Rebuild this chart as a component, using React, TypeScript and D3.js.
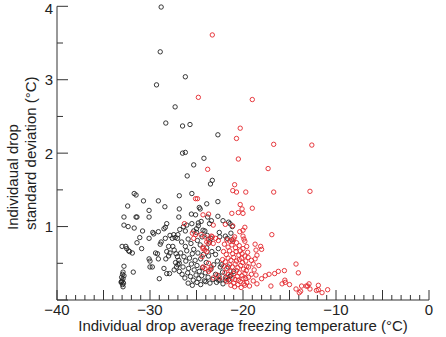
import React from "react";
import * as d3 from "d3";

// Drop freezing statistics: [average freezing temperature (°C), standard deviation (°C)]
const blackDrops: [number, number][] = [
  [-28.8, 3.99], [-28.9, 3.38], [-29.3, 2.93], [-26.2, 3.04], [-27.3, 2.63], [-28.3, 2.41],
  [-26.5, 2.37], [-25.7, 2.39], [-22.7, 2.25], [-26.5, 2.0], [-26.2, 2.01], [-24.2, 1.93],
  [-25.3, 1.84], [-26.0, 1.69], [-23.3, 1.63], [-23.5, 1.58],
  [-31.7, 1.45], [-31.5, 1.43], [-30.7, 1.35], [-32.4, 1.28], [-29.1, 1.35], [-28.4, 1.27],
  [-30.1, 1.22], [-32.8, 1.13], [-31.5, 1.13], [-31.4, 1.13], [-30.1, 1.13], [-26.85, 1.42],
  [-26.85, 1.24], [-26.9, 1.13],
  [-32.8, 1.02], [-32.35, 1.0], [-31.7, 0.98], [-30.8, 0.94], [-29.7, 0.92], [-29.6, 0.9],
  [-29.1, 0.93], [-28.5, 0.97], [-28.35, 0.99], [-28.2, 1.04], [-31.1, 0.85], [-30.1, 0.84],
  [-31.4, 0.78], [-28.8, 0.79], [-28.9, 0.76], [-28.35, 0.84], [-27.85, 0.88], [-27.45, 0.89],
  [-27.3, 0.85], [-27.0, 0.89],
  [-33.0, 0.73], [-32.6, 0.73], [-32.5, 0.7], [-32.3, 0.67], [-32.2, 0.66], [-31.9, 0.64],
  [-30.9, 0.7], [-29.4, 0.64], [-29.2, 0.63], [-30.1, 0.56], [-30.0, 0.53], [-29.1, 0.56],
  [-28.3, 0.56], [-28.0, 0.6], [-27.85, 0.64], [-29.75, 0.45], [-30.0, 0.45], [-28.5, 0.43],
  [-28.2, 0.36], [-27.9, 0.36], [-32.8, 0.46],
  [-32.9, 0.38], [-32.95, 0.35], [-32.8, 0.33], [-33.05, 0.31], [-32.9, 0.29], [-33.0, 0.26],
  [-33.1, 0.24], [-32.95, 0.21], [-32.9, 0.18], [-33.07, 0.25], [-32.85, 0.23],
  [-31.8, 0.38], [-29.0, 0.29],
  [-27.55, 0.73], [-27.4, 0.68], [-27.2, 0.63], [-27.05, 0.59], [-28.0, 0.73], [-28.2, 0.66],
  [-27.4, 0.41], [-27.15, 0.45], [-27.25, 0.51], [-26.9, 0.54], [-27.0, 0.48], [-26.85, 0.39],
  [-25.5, 1.45], [-24.7, 1.26], [-23.9, 1.31], [-22.7, 1.34], [-25.55, 1.17], [-25.1, 1.16],
  [-23.8, 1.13], [-22.7, 1.14], [-24.8, 1.05], [-24.5, 1.07], [-23.4, 1.08], [-23.6, 1.04],
  [-24.8, 1.01], [-25.0, 0.97], [-25.3, 0.94], [-25.0, 0.92], [-24.3, 0.95], [-24.1, 0.94],
  [-22.15, 1.08], [-21.55, 1.06], [-22.55, 0.92], [-22.5, 0.86], [-21.3, 0.91], [-24.6, 1.24],
  [-21.9, 0.87], [-21.7, 0.84], [-21.2, 0.82], [-21.4, 1.04], [-21.15, 1.0],
  [-27.6, 0.84], [-27.05, 0.84], [-26.4, 1.0], [-26.8, 0.96], [-26.2, 0.94], [-25.5, 1.04],
  [-26.05, 1.02],
  [-26.6, 0.79], [-26.2, 0.73], [-25.9, 0.83], [-25.6, 0.77], [-25.3, 0.69], [-24.9, 0.81],
  [-24.6, 0.75], [-24.4, 0.86], [-23.9, 0.71], [-23.6, 0.79],
  [-26.7, 0.64], [-26.35, 0.59], [-26.05, 0.67], [-25.75, 0.57], [-25.45, 0.63], [-25.15, 0.54],
  [-24.85, 0.64], [-24.55, 0.56], [-24.25, 0.62], [-23.95, 0.51],
  [-26.85, 0.5], [-26.45, 0.45], [-26.15, 0.53], [-25.85, 0.43], [-25.55, 0.49], [-25.25, 0.41],
  [-24.95, 0.47], [-24.7, 0.39], [-24.35, 0.44], [-24.05, 0.37],
  [-26.55, 0.35], [-26.25, 0.3], [-25.95, 0.37], [-25.65, 0.32], [-25.35, 0.27], [-25.05, 0.34],
  [-24.75, 0.29], [-24.45, 0.33], [-24.15, 0.26], [-23.75, 0.31],
  [-25.9, 0.23], [-25.45, 0.2], [-24.95, 0.24], [-24.55, 0.21], [-24.0, 0.25], [-23.55, 0.23],
  [-23.25, 0.28], [-22.85, 0.24], [-22.5, 0.27], [-22.15, 0.22],
  [-23.45, 0.42], [-23.15, 0.48], [-22.75, 0.53], [-22.45, 0.45], [-22.2, 0.38], [-22.95, 0.35],
  [-22.6, 0.33], [-21.85, 0.31], [-21.55, 0.28], [-21.3, 0.34],
  [-23.7, 0.6], [-23.35, 0.66], [-22.95, 0.62], [-22.65, 0.7], [-23.85, 0.88], [-23.45, 0.84],
  [-21.4, 0.32], [-21.9, 0.27], [-22.65, 0.27], [-21.0, 0.39], [-21.6, 0.45], [-22.3, 0.48],
];

const redDrops: [number, number][] = [
  [-23.3, 3.61], [-24.8, 2.76], [-19.0, 2.73], [-20.3, 2.34], [-20.7, 2.2], [-16.7, 2.12],
  [-12.6, 2.11], [-20.5, 1.92], [-23.8, 1.78], [-17.3, 1.79], [-20.9, 1.57], [-21.1, 1.49],
  [-20.7, 1.47], [-19.7, 1.47], [-16.7, 1.47], [-12.8, 1.48], [-20.3, 1.3], [-20.1, 1.24],
  [-19.0, 1.25], [-20.5, 1.19], [-20.0, 1.18], [-21.2, 1.18], [-24.9, 1.38], [-25.1, 1.38],
  [-24.3, 1.16], [-23.7, 1.17], [-26.3, 1.04], [-21.9, 1.03], [-21.1, 1.01],
  [-19.8, 0.99], [-20.0, 0.95], [-20.35, 0.93], [-16.9, 0.89], [-20.0, 0.87], [-19.9, 0.83],
  [-19.8, 0.8], [-23.4, 0.87], [-20.9, 0.86], [-21.0, 0.83], [-21.75, 0.82], [-21.4, 0.8],
  [-21.1, 0.8], [-20.7, 0.78], [-18.7, 0.76], [-18.6, 0.68], [-18.5, 0.61], [-18.1, 0.73],
  [-18.0, 0.69], [-19.5, 0.65], [-20.3, 0.67], [-20.1, 0.63], [-18.7, 0.56], [-19.1, 0.54],
  [-19.6, 0.46], [-19.4, 0.45], [-14.3, 0.49], [-18.6, 0.34], [-19.1, 0.35], [-17.6, 0.33],
  [-17.2, 0.35], [-16.6, 0.36], [-16.2, 0.39], [-15.55, 0.4], [-18.0, 0.29], [-14.05, 0.37],
  [-19.7, 0.29], [-15.5, 0.27], [-15.45, 0.24], [-15.8, 0.22], [-17.0, 0.19], [-15.0, 0.21],
  [-13.7, 0.19], [-14.3, 0.15], [-13.05, 0.19], [-12.9, 0.22], [-12.8, 0.15], [-13.8, 0.12],
  [-13.95, 0.1], [-11.9, 0.14], [-11.9, 0.2], [-19.8, 0.2], [-12.1, 0.13], [-11.5, 0.1],
  [-10.9, 0.14], [-13.2, 0.19],
  [-24.3, 0.7], [-23.9, 0.66], [-24.4, 0.59], [-23.7, 0.5], [-24.3, 0.45], [-23.55, 0.41],
  [-23.3, 0.86], [-22.95, 0.84], [-23.7, 0.82], [-22.65, 0.81], [-24.5, 0.89], [-24.1, 0.86],
  [-23.9, 0.79], [-23.7, 0.77], [-24.3, 0.72], [-24.1, 0.68],
  [-25.45, 0.91], [-25.1, 0.89], [-25.3, 0.84], [-23.2, 1.02], [-23.2, 0.77],
  [-24.1, 0.43], [-23.4, 0.45], [-23.7, 0.39], [-22.8, 0.34], [-23.2, 0.3], [-22.5, 0.3],
  [-21.75, 0.25], [-21.0, 0.23], [-20.5, 0.27],
  [-22.0, 0.76], [-21.6, 0.72], [-21.2, 0.75], [-20.8, 0.71], [-20.4, 0.74], [-20.0, 0.7],
  [-19.6, 0.73],
  [-22.1, 0.66], [-21.8, 0.62], [-21.45, 0.67], [-21.1, 0.63], [-20.75, 0.66], [-20.45, 0.61],
  [-20.15, 0.57], [-19.8, 0.6], [-19.45, 0.58],
  [-22.2, 0.55], [-21.9, 0.52], [-21.6, 0.57], [-21.3, 0.54], [-21.0, 0.58], [-20.7, 0.53],
  [-20.4, 0.55], [-20.05, 0.51], [-19.7, 0.53],
  [-22.05, 0.46], [-21.75, 0.43], [-21.45, 0.48], [-21.15, 0.45], [-20.85, 0.49], [-20.55, 0.44],
  [-20.25, 0.47], [-19.95, 0.42], [-19.65, 0.4],
  [-21.95, 0.37], [-21.6, 0.35], [-21.3, 0.39], [-21.0, 0.36], [-20.7, 0.4], [-20.4, 0.37],
  [-20.1, 0.33], [-19.8, 0.36], [-19.4, 0.31],
  [-21.8, 0.29], [-21.45, 0.26], [-21.15, 0.3], [-20.85, 0.28], [-20.6, 0.32], [-20.3, 0.25],
  [-20.0, 0.29], [-19.6, 0.24],
  [-21.3, 0.2], [-20.9, 0.18], [-20.55, 0.21], [-20.2, 0.17], [-19.9, 0.22], [-19.3, 0.19],
  [-18.9, 0.26], [-18.5, 0.22], [-18.8, 0.41], [-18.3, 0.47], [-18.9, 0.49],
];

const xLabelTicks = [-40, -30, -20, -10, 0];
const yLabelTicks = [1, 2, 3, 4];

const W = 446;
const H = 337;
const FONT = "'Liberation Sans', Arial, Helvetica, sans-serif";
const AXIS = "#333";
const TEXT = "#222";
const BLACK = "#222";
const RED = "#e3262b";

export default function App() {
  const x = d3.scaleLinear().domain([-40, 0]).range([57, 429]);
  const y = d3.scaleLinear().domain([0, 4]).range([300, 6.3]);
  const fmt = (v: number) => (v < 0 ? "\u2212" + Math.abs(v) : String(v));

  const xTicks = d3.range(-40, 0.5, 1);
  const yTicks = d3.range(0, 4.01, 0.5);

  return (
    <svg
      width={W}
      height={H}
      style={{ position: "absolute", left: 0, top: 0, background: "#fff" }}
      fontFamily={FONT}
    >
      <rect width={W} height={H} fill="#fff" />
      {/* axes */}
      <line x1={x(-40)} x2={x(0)} y1={y(0)} y2={y(0)} stroke={AXIS} strokeWidth={1} />
      <line x1={x(-40)} x2={x(-40)} y1={y(0)} y2={y(4)} stroke={AXIS} strokeWidth={1} />
      {xTicks.map((t) => (
        <line
          key={"xt" + t}
          x1={x(t)}
          x2={x(t)}
          y1={y(0)}
          y2={y(0) - (t % 5 === 0 ? 10 : 5)}
          stroke={AXIS}
          strokeWidth={1}
        />
      ))}
      {yTicks.map((t) => (
        <line
          key={"yt" + t}
          x1={x(-40)}
          x2={x(-40) + (t % 1 === 0 ? 11 : 6)}
          y1={y(t)}
          y2={y(t)}
          stroke={AXIS}
          strokeWidth={1}
        />
      ))}
      {xLabelTicks.map((t) => (
        <text key={"xl" + t} x={x(t)} y={315} fontSize={15} textAnchor="middle" fill={TEXT}>
          {fmt(t)}
        </text>
      ))}
      {yLabelTicks.map((t) => (
        <text
          key={"yl" + t}
          x={53}
          y={Math.max(y(t) + 5.5, 13.8)}
          fontSize={15}
          textAnchor="end"
          fill={TEXT}
        >
          {t}
        </text>
      ))}
      <text x={243} y={331} fontSize={15} textAnchor="middle" fill={TEXT}>
        Individual drop average freezing temperature (°C)
      </text>
      <g transform="translate(18,230) rotate(-90)">
        <text x={0} y={0} fontSize={15} textAnchor="start" fill={TEXT}>
          Individaual drop
        </text>
        <text x={0} y={18} fontSize={15} textAnchor="start" fill={TEXT}>
          standard deviation (°C)
        </text>
      </g>
      {/* points */}
      <g fill="none" strokeWidth={0.9}>
        {blackDrops.map((d, i) => (
          <circle key={"b" + i} cx={x(d[0])} cy={y(d[1])} r={2.2} stroke={BLACK} />
        ))}
        {redDrops.map((d, i) => (
          <circle key={"r" + i} cx={x(d[0])} cy={y(d[1])} r={2.2} stroke={RED} />
        ))}
      </g>
    </svg>
  );
}
